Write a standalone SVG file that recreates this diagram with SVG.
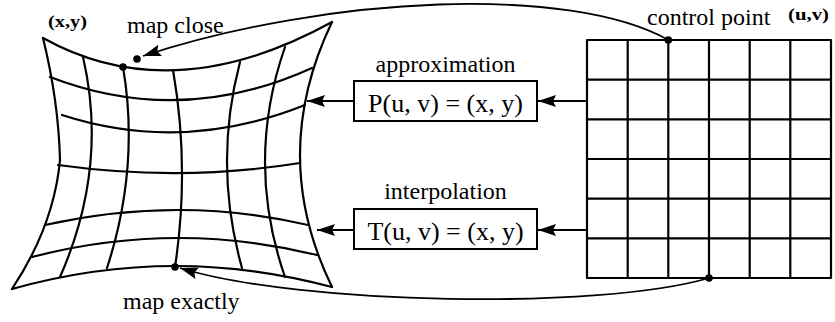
<svg xmlns="http://www.w3.org/2000/svg" width="835" height="322" viewBox="0 0 835 322">
<defs>
<style>
.lbl{font-family:"Liberation Serif","Times New Roman","DejaVu Serif",serif;font-size:24px;fill:#000}
.fx{font-family:"Liberation Serif","Times New Roman","DejaVu Serif",serif;font-size:26px;fill:#000}
.sm{font-family:"Liberation Serif","Times New Roman","DejaVu Serif",serif;font-size:17px;font-weight:bold;fill:#000}
.g{fill:none;stroke:#000;stroke-width:2.2;stroke-linecap:round;stroke-linejoin:round}
.c{fill:none;stroke:#000;stroke-width:1.8}
.box{fill:#fff;stroke:#000;stroke-width:2}
</style>
<marker id="ah" viewBox="0 0 18 12" refX="18" refY="6" markerWidth="18" markerHeight="12" markerUnits="userSpaceOnUse" orient="auto">
<path d="M0,0 L18,6 L0,12 L3,6 Z" fill="#000"/>
</marker>
</defs>

<g id="warped-grid">
<path class="g" d="M43,38 Q172.5,110 332,22"/>
<path class="g" d="M12,289 Q172,244 332,287"/>
<path class="g" d="M43,38 Q58.5,101 60,160 Q54,225.5 12,289"/>
<path class="g" d="M332,22 Q268,155.5 332,287"/>
<path class="g" d="M50,77 Q181,127.5 312,68"/>
<path class="g" d="M62,115 Q182.5,154 305,105"/>
<path class="g" d="M58,165 Q181,182 300,163"/>
<path class="g" d="M45,225 Q179.5,195 308,225"/>
<path class="g" d="M32,257 Q174.5,220 317,255"/>
<path class="g" d="M83,57 Q108.5,167 60,277"/>
<path class="g" d="M123,67 Q140,166.5 107,268"/>
<path class="g" d="M173,70 Q190,167.5 175,267"/>
<path class="g" d="M240,62 Q213,165 242,268"/>
<path class="g" d="M285,47 Q245,162 285,277"/>
<circle cx="123" cy="67" r="3.8" fill="#000"/>
<circle cx="175" cy="267" r="3.8" fill="#000"/>
<text class="sm" x="48" y="27" textLength="39" lengthAdjust="spacingAndGlyphs">(x,y)</text>
</g>

<g id="control-grid">
<rect class="g" x="587" y="40" width="244" height="238"/>
<path class="g" d="M627.7,40V278M668.3,40V278M709,40V278M749.7,40V278M790.3,40V278"/>
<path class="g" d="M587,79.7H831M587,119.3H831M587,159H831M587,198.7H831M587,238.3H831"/>
<circle cx="668.3" cy="40" r="3.8" fill="#000"/>
<circle cx="709" cy="278" r="3.8" fill="#000"/>
<text class="sm" x="788" y="20" textLength="41" lengthAdjust="spacingAndGlyphs">(u,v)</text>
<text class="lbl" x="647" y="25">control point</text>
</g>

<g id="approximation">
<text class="lbl" x="445.5" y="72" text-anchor="middle">approximation</text>
<rect class="box" x="354" y="81" width="183" height="40"/>
<text class="fx" x="445.5" y="112" text-anchor="middle">P(u, v) = (x, y)</text>
</g>

<g id="interpolation">
<text class="lbl" x="445.5" y="199" text-anchor="middle">interpolation</text>
<rect class="box" x="354" y="209" width="183" height="40"/>
<text class="fx" x="445.5" y="240" text-anchor="middle">T(u, v) = (x, y)</text>
</g>

<g id="labels">
<text class="lbl" x="127" y="33">map close</text>
<text class="lbl" x="123" y="309">map exactly</text>
</g>

<g id="connectors">
<path class="c" d="M587,101 H538" marker-end="url(#ah)"/>
<path class="c" d="M354,101 H307" marker-end="url(#ah)"/>
<path class="c" d="M587,230 H538" marker-end="url(#ah)"/>
<path class="c" d="M354,230 H317" marker-end="url(#ah)"/>
<path class="c" d="M668.3,40 C570,-15 330,-5 143,56" marker-end="url(#ah)"/>
<circle cx="137" cy="59" r="3.8" fill="#000"/>
<path class="c" d="M709,278 C600,310 300,305 180,268" marker-end="url(#ah)"/>
</g>
</svg>
